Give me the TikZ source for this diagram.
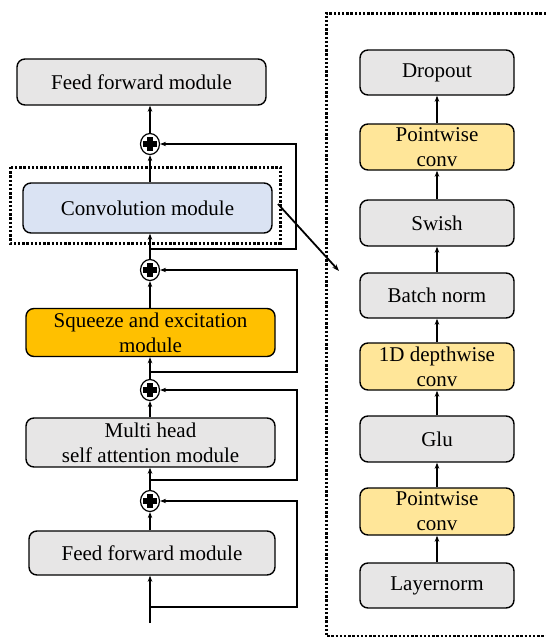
\documentclass[tikz,border=0pt]{standalone}
\usepackage{fontspec}
\setmainfont{Liberation Serif}
\usetikzlibrary{arrows.meta,shapes.geometric}
\definecolor{boxgray}{HTML}{E7E6E6}
\definecolor{boxyellow}{HTML}{FFE699}
\definecolor{boxblue}{HTML}{DAE3F3}
\definecolor{boxorange}{HTML}{FFC000}
\tikzset{
  blk/.style={draw=black, line width=1.4pt, rounded corners=8pt, inner sep=0pt,
    align=center, font=\rmfamily\fontsize{21}{25}\selectfont, fill=boxgray},
  lblk/.style={blk, minimum width=249pt},
  rblk/.style={blk, minimum width=154pt},
  sumnode/.style={draw=black, line width=1.2pt, ellipse, minimum width=19pt,
    minimum height=21pt, inner sep=0pt, fill=white,
    path picture={
      \fill[black] (path picture bounding box.center) ++(-7pt,-2.6pt) rectangle ++(14pt,5.2pt);
      \fill[black] (path picture bounding box.center) ++(-2.6pt,-7pt) rectangle ++(5.2pt,14pt);
    }},
  arr/.style={line width=1.5pt, -{Stealth[length=6pt,width=4.5pt]}},
  lnk/.style={line width=1.8pt},
  dotbox/.style={line width=3pt, dash pattern=on 2.4pt off 1.8pt},
}
\begin{document}
\begin{tikzpicture}[x=1pt,y=-1pt]
\useasboundingbox (0,0) rectangle (546,637);

% left column: conformer block
\node[lblk, minimum height=46pt] (fftop) at (141.5,82) {Feed forward module};
\node[lblk, minimum height=50pt, fill=boxblue] (conv) at (147.5,208) {Convolution module};
\node[lblk, minimum height=48pt, fill=boxorange] (se) at (150.5,332.5) {Squeeze and excitation\\module};
\node[lblk, minimum height=49pt] (mhsa) at (150.5,442.5) {Multi head\\self attention module};
\node[lblk, minimum width=246pt, minimum height=44pt] (ffbot) at (152,553) {Feed forward module};

% residual adders
\node[sumnode] (p1) at (150,144) {};
\node[sumnode] (p2) at (150,270) {};
\node[sumnode] (p3) at (150,390) {};
\node[sumnode] (p4) at (150,501) {};

% input and skip-path corners
\coordinate (in) at (150,623);
\coordinate (j1) at (150,249);
\coordinate (j2) at (150,372);
\coordinate (j3) at (150,480);
\coordinate (j4) at (150,607);

% main path
\draw[arr] (in) -- (in |- ffbot.south);
\draw[arr] (p4 |- ffbot.north) -- (p4.south);
\draw[arr] (p4.north) -- (p4 |- mhsa.south);
\draw[arr] (p3 |- mhsa.north) -- (p3.south);
\draw[arr] (p3.north) -- (p3 |- se.south);
\draw[arr] (p2 |- se.north) -- (p2.south);
\draw[arr] (p2.north) -- (p2 |- conv.south);
\draw[arr] (p1 |- conv.north) -- (p1.south);
\draw[arr] (p1.north) -- (p1 |- fftop.south);

% skip connections
\draw[lnk, -{Stealth[length=6pt,width=4.5pt]}] (j1) -- (296,249) -- (296,144) -- (p1.east);
\draw[lnk, -{Stealth[length=6pt,width=4.5pt]}] (j2) -- (297,372) -- (297,270) -- (p2.east);
\draw[lnk, -{Stealth[length=6pt,width=4.5pt]}] (j3) -- (297,480) -- (297,390) -- (p3.east);
\draw[lnk, -{Stealth[length=6pt,width=4.5pt]}] (j4) -- (297,607) -- (297,501) -- (p4.east);

% highlight around the convolution module
\draw[dotbox] (10,167) rectangle (280,243);

% right column: convolution module details
\node[rblk, minimum height=45pt] (drop) at (437,72.5) {Dropout};
\node[rblk, minimum height=46pt, fill=boxyellow] (pw2) at (437,147) {Pointwise\\conv};
\node[rblk, minimum height=46pt] (swish) at (437,223) {Swish};
\node[rblk, minimum height=45pt] (bn) at (437,295.5) {Batch norm};
\node[rblk, minimum height=47pt, fill=boxyellow] (dw) at (437,366.5) {1D depthwise\\conv};
\node[rblk, minimum height=46pt] (glu) at (437,439) {Glu};
\node[rblk, minimum height=47pt, fill=boxyellow] (pw1) at (437,511.5) {Pointwise\\conv};
\node[rblk, minimum height=45pt] (ln) at (437,585.5) {Layernorm};

\draw[arr] (ln) -- (pw1);
\draw[arr] (pw1) -- (glu);
\draw[arr] (glu) -- (dw);
\draw[arr] (dw) -- (bn);
\draw[arr] (bn) -- (swish);
\draw[arr] (swish) -- (pw2);
\draw[arr] (pw2) -- (drop);

% open frame around the detail column
\draw[dotbox] (546,13) -- (326,13) -- (326,636) -- (546,636);

% pointer from the highlighted module to its detail
\coordinate (zs) at (278,204);
\coordinate (ze) at (339,271);
\draw[line width=1.8pt, -{Stealth[length=7pt,width=5pt]}] (zs) -- (ze);
\end{tikzpicture}
\end{document}
